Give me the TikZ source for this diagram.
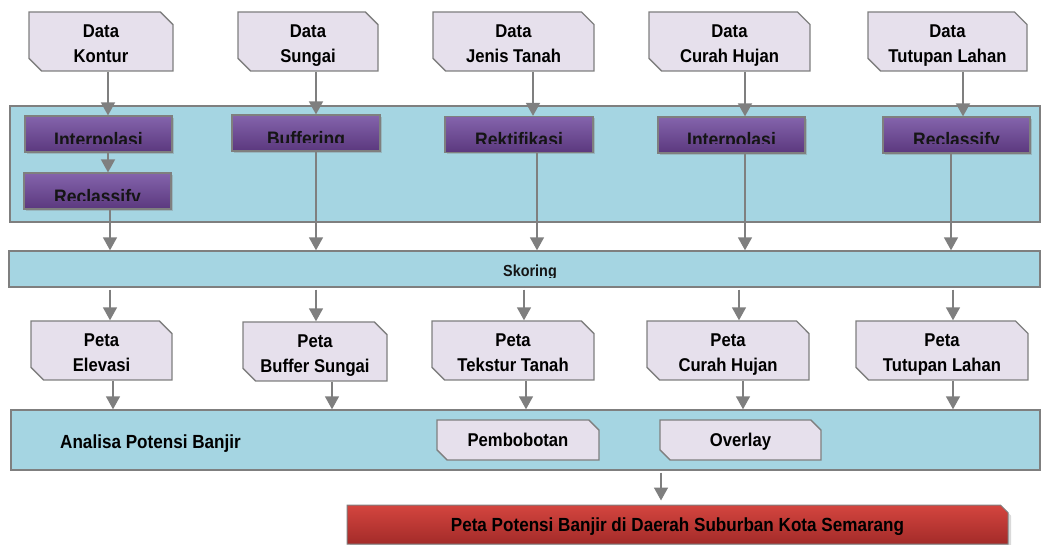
\documentclass[tikz,border=0pt]{standalone}
\usepackage{fontspec}
\setmainfont{Liberation Sans}[FakeStretch=0.9]
\usetikzlibrary{arrows.meta,shapes.misc,shadows}
\definecolor{lc}{HTML}{7F7F7F}
\definecolor{bandc}{HTML}{A5D5E2}
\definecolor{lav}{HTML}{E6E0EC}
\definecolor{purT}{HTML}{8464AC}
\definecolor{purB}{HTML}{5B387E}
\definecolor{redT}{HTML}{D4453F}
\definecolor{redB}{HTML}{A32B29}
\definecolor{ink}{HTML}{151515}
\newcommand{\tl}[2]{\rule{0pt}{20.4pt}#1\\#2\vphantom{g}}
\tikzset{
  bandst/.style={draw=lc, line width=1.4pt, fill=bandc, inner sep=0pt},
  databox/.style={chamfered rectangle, chamfered rectangle corners={north east,south west},
    chamfered rectangle xsep=9pt, draw=lc, line width=1.4pt, fill=lav, inner sep=0pt,
    minimum height=59pt, align=center, text=black,
    font=\bfseries\fontsize{18.5}{25}\selectfont},
  smallbox/.style={databox, minimum height=40pt, chamfered rectangle xsep=7pt,
    text height=13.4pt, text depth=0pt},
  purbox/.style={rectangle, draw=lc, line width=1.2pt, top color=purT, bottom color=purB,
    minimum height=36pt, inner sep=0pt,
    drop shadow={shadow xshift=2pt, shadow yshift=-2pt, opacity=0.35}},
  purlabel/.style={anchor=base, inner sep=0pt, text=ink, font=\bfseries\fontsize{19.5}{22}\selectfont},
  redbox/.style={chamfered rectangle, chamfered rectangle corners={north east},
    chamfered rectangle xsep=4pt, draw=lc, line width=1pt, top color=redT, bottom color=redB,
    inner sep=0pt, text=black, font=\bfseries\fontsize{19}{22}\selectfont,
    text height=14.5pt, text depth=0pt,
    drop shadow={shadow xshift=3pt, shadow yshift=-3pt, opacity=0.3}},
  arr/.style={draw=lc, line width=1.6pt, -{Triangle[width=14pt,length=13pt]}}
}
\begin{document}
\begin{tikzpicture}[x=1pt,y=-1pt]
\useasboundingbox (0,0) rectangle (1042,545);
% bands
\node[bandst, minimum width=1030pt, minimum height=116pt] (b1) at (525,164) {};
\node[bandst, minimum width=1031pt, minimum height=36pt] (b2) at (524.5,269) {};
\node[bandst, minimum width=1029pt, minimum height=60pt] (b3) at (525.5,440) {};
\begin{scope}
  \clip (9,251) rectangle (1040,277.8);
  \node[anchor=base, inner sep=0pt, text=ink, font=\bfseries\fontsize{16}{18}\selectfont] (sk) at (530,276.5) {Skoring};
\end{scope}
\node[anchor=base west, inner sep=0pt, text=black, font=\bfseries\fontsize{19}{22}\selectfont] (an) at (60,448) {Analisa Potensi Banjir};
% data boxes
\node[databox, minimum width=144pt] (dk) at (101,41.5) {\tl{Data}{Kontur}};
\node[databox, minimum width=140pt] (ds) at (308,41.5) {\tl{Data}{Sungai}};
\node[databox, minimum width=161pt] (dj) at (513.5,41.5) {\tl{Data}{Jenis Tanah}};
\node[databox, minimum width=161pt] (dc) at (729.5,41.5) {\tl{Data}{Curah Hujan}};
\node[databox, minimum width=159pt] (dt) at (947.5,41.5) {\tl{Data}{Tutupan Lahan}};
% purple process boxes
\node[purbox, minimum width=147pt] (p1) at (98.5,134) {};
\node[purbox, minimum width=147pt] (p2) at (97.5,191) {};
\node[purbox, minimum width=148pt] (p3) at (306,133) {};
\node[purbox, minimum width=148pt] (p4) at (519,134.5) {};
\node[purbox, minimum width=147pt] (p5) at (731.5,135) {};
\node[purbox, minimum width=147pt] (p6) at (956.5,135) {};
\begin{scope}\clip (20,110) rectangle (180,143.5);
  \node[purlabel] (l1) at (98.5,146.5) {Interpolasi};\end{scope}
\begin{scope}\clip (20,170) rectangle (180,201);
  \node[purlabel] (l2) at (97.5,203.5) {Reclassify};\end{scope}
\begin{scope}\clip (225,110) rectangle (390,142.5);
  \node[purlabel] (l3) at (306,145.5) {Buffering};\end{scope}
\begin{scope}\clip (440,110) rectangle (600,143.5);
  \node[purlabel] (l4) at (519,146.5) {Rektifikasi};\end{scope}
\begin{scope}\clip (650,110) rectangle (815,143.5);
  \node[purlabel] (l5) at (731.5,147) {Interpolasi};\end{scope}
\begin{scope}\clip (875,110) rectangle (1040,143.5);
  \node[purlabel] (l6) at (956.5,147) {Reclassify};\end{scope}
% peta boxes
\node[databox, minimum width=141pt] (pe) at (101.5,350.5) {\tl{Peta}{Elevasi}};
\node[databox, minimum width=144pt] (pb) at (315,351.5) {\tl{Peta}{Buffer Sungai}};
\node[databox, minimum width=162pt] (pt) at (513,350.5) {\tl{Peta}{Tekstur Tanah}};
\node[databox, minimum width=162pt] (pc) at (728,350.5) {\tl{Peta}{Curah Hujan}};
\node[databox, minimum width=172pt] (pl) at (942,350.5) {\tl{Peta}{Tutupan Lahan}};
% analysis boxes
\node[smallbox, minimum width=162pt] (pm) at (518,440) {Pembobotan};
\node[smallbox, minimum width=161pt] (ov) at (740.5,440) {Overlay};
% result
\node[redbox, minimum width=661pt, minimum height=39pt] (rs) at (677.5,524.5) {Peta Potensi Banjir di Daerah Suburban Kota Semarang};
% connectors: data -> process
\draw[arr] (dk.south -| 108,0) -- (p1.north -| 108,0);
\draw[arr] (ds.south -| 316,0) -- (p3.north -| 316,0);
\draw[arr] (dj.south -| 533,0) -- (p4.north -| 533,0);
\draw[arr] (dc.south -| 745,0) -- (p5.north -| 745,0);
\draw[arr] (dt.south -| 963,0) -- (p6.north -| 963,0);
\draw[arr] (p1.south -| 108,0) -- (p2.north -| 108,0);
% process -> skoring
\draw[arr] (p2.south -| 110,0) -- (b2.north -| 110,0);
\draw[arr] (p3.south -| 316,0) -- (b2.north -| 316,0);
\draw[arr] (p4.south -| 537,0) -- (b2.north -| 537,0);
\draw[arr] (p5.south -| 745,0) -- (b2.north -| 745,0);
\draw[arr] (p6.south -| 951,0) -- (b2.north -| 951,0);
% skoring -> peta
\draw[arr, shorten <=2pt] (b2.south -| 110,0) -- (pe.north -| 110,0);
\draw[arr, shorten <=2pt] (b2.south -| 316,0) -- (pb.north -| 316,0);
\draw[arr, shorten <=2pt] (b2.south -| 524,0) -- (pt.north -| 524,0);
\draw[arr, shorten <=2pt] (b2.south -| 739,0) -- (pc.north -| 739,0);
\draw[arr, shorten <=2pt] (b2.south -| 953,0) -- (pl.north -| 953,0);
% peta -> analisa
\draw[arr] (pe.south -| 113,0) -- (b3.north -| 113,0);
\draw[arr] (pb.south -| 332,0) -- (b3.north -| 332,0);
\draw[arr] (pt.south -| 526,0) -- (b3.north -| 526,0);
\draw[arr] (pc.south -| 743,0) -- (b3.north -| 743,0);
\draw[arr] (pl.south -| 953,0) -- (b3.north -| 953,0);
% analisa -> result
\draw[arr, shorten <=2pt, shorten >=4pt] (b3.south -| 661,0) -- (rs.north -| 661,0);
\end{tikzpicture}
\end{document}
